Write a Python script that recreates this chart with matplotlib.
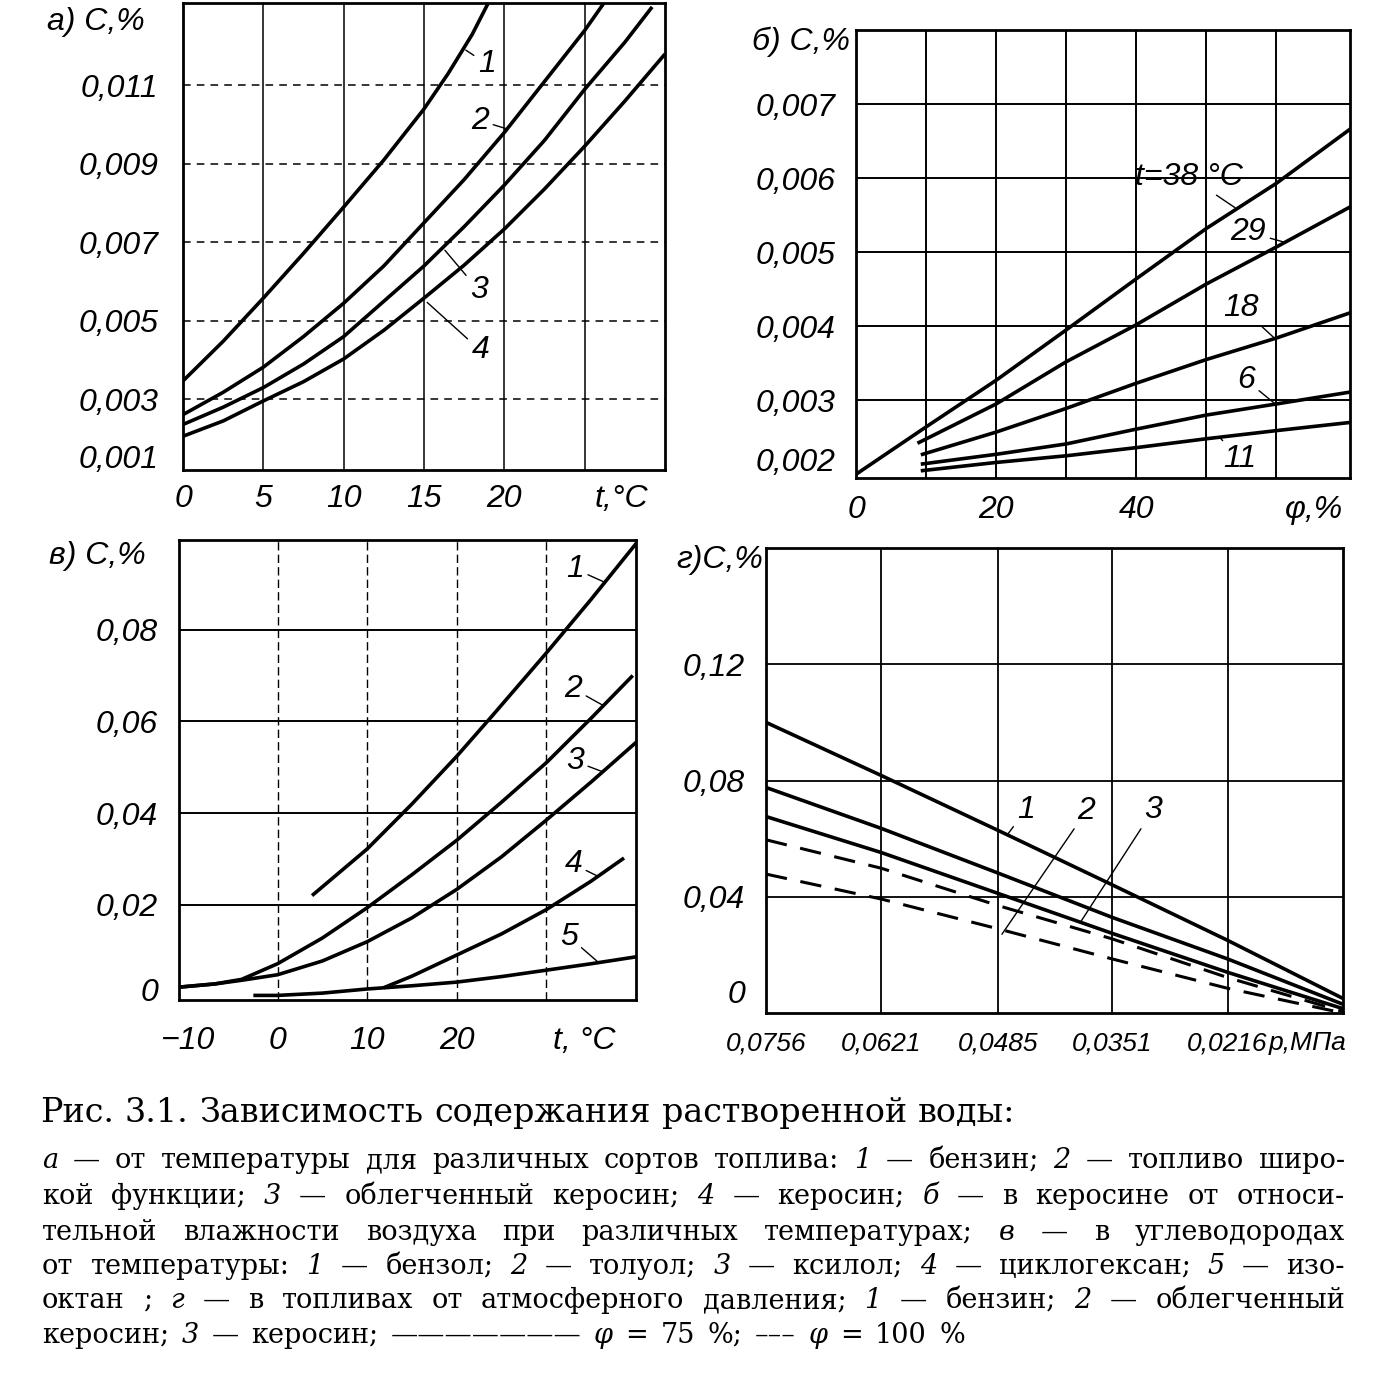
import matplotlib
matplotlib.use('Agg')
import matplotlib.pyplot as plt
import matplotlib.font_manager as fm

# ---------------- data ----------------
# panel a: C,% vs t,°C for fuels
a_x1 = [0, 2.5, 5, 7.5, 10, 12.5, 15, 16.5, 18, 19]
a_y1 = [0.00347, 0.00448, 0.00558, 0.00672, 0.0079, 0.0091, 0.0104, 0.0113, 0.0123, 0.0131]
a_x2 = [0, 2.5, 5, 7.5, 10, 12.5, 15, 17.5, 20, 22.5, 25, 26.2]
a_y2 = [0.00261, 0.00318, 0.00382, 0.0046, 0.00545, 0.0064, 0.0075, 0.0086, 0.0098, 0.0111, 0.0124, 0.0131]
a_x3 = [0, 2.5, 5, 7.5, 10, 12.5, 15, 17.5, 20, 22.5, 25, 27.5, 29.2]
a_y3 = [0.00236, 0.0028, 0.0033, 0.0039, 0.0046, 0.0055, 0.0064, 0.0074, 0.00846, 0.0096, 0.0109, 0.0121, 0.0130]
a_x4 = [0, 2.5, 5, 7.5, 10, 12.5, 15, 17.5, 20, 22.5, 25, 27.5, 30]
a_y4 = [0.00206, 0.00245, 0.00296, 0.00345, 0.00403, 0.00476, 0.00558, 0.00642, 0.00734, 0.00836, 0.00945, 0.0106, 0.0118]
a_xticks = [0, 5, 10, 15, 20]
a_xtick_labels = ['0', '5', '10', '15', '20']
a_xgrid = [5, 10, 15, 20, 25]
a_yticks = [0.003, 0.005, 0.007, 0.009, 0.011]
a_ytick_labels = ['0,003', '0,005', '0,007', '0,009', '0,011']

# panel б: C,% vs φ,% at several temperatures
b_x38 = [0, 10, 20, 30, 40, 50, 60, 70.5]
b_y38 = [0.0020, 0.00264, 0.00327, 0.00395, 0.00464, 0.00532, 0.00593, 0.00666]
b_x29 = [9, 20, 30, 40, 50, 60, 70.5]
b_y29 = [0.00243, 0.00295, 0.00352, 0.00402, 0.00457, 0.00507, 0.00561]
b_x18 = [9.5, 20, 30, 40, 50, 60, 70.5]
b_y18 = [0.00227, 0.00257, 0.00289, 0.00323, 0.00355, 0.00384, 0.00418]
b_x6 = [9.5, 20, 30, 40, 50, 60, 70.5]
b_y6 = [0.00214, 0.00227, 0.00241, 0.00261, 0.00280, 0.00295, 0.00311]
b_x11 = [9.5, 20, 30, 40, 50, 60, 70.5]
b_y11 = [0.00205, 0.00216, 0.00225, 0.00236, 0.00248, 0.00259, 0.00270]
b_xticks = [0, 20, 40]
b_xtick_labels = ['0', '20', '40']
b_xgrid = [10, 20, 30, 40, 50, 60]
b_yticks = [0.003, 0.004, 0.005, 0.006, 0.007]
b_ytick_labels = ['0,003', '0,004', '0,005', '0,006', '0,007']

# panel в: C,% vs t,°C for hydrocarbons
c_x1 = [4, 10, 15, 20, 24, 30, 35, 40]
c_y1 = [0.0223, 0.0322, 0.0420, 0.0524, 0.0613, 0.0749, 0.0866, 0.0987]
c_x2 = [-11, -7, -4, 0, 5, 10, 15, 20, 25, 30, 35, 39.5]
c_y2 = [0.0021, 0.0028, 0.0038, 0.0072, 0.0128, 0.0194, 0.0266, 0.0341, 0.0424, 0.0510, 0.0607, 0.0697]
c_x3 = [-11, -7, -4, 0, 5, 10, 15, 20, 25, 30, 35, 40]
c_y3 = [0.0021, 0.0028, 0.0036, 0.0048, 0.0078, 0.0120, 0.0172, 0.0234, 0.0305, 0.0385, 0.0468, 0.0554]
c_x4 = [12, 15, 20, 25, 30, 35, 38.5]
c_y4 = [0.0021, 0.0045, 0.0091, 0.0137, 0.0190, 0.0252, 0.0300]
c_x5 = [-2.5, 0, 5, 10, 15, 20, 25, 30, 35, 40]
c_y5 = [0.0003, 0.0003, 0.0008, 0.0017, 0.0024, 0.0032, 0.0044, 0.0058, 0.0072, 0.0087]
c_xticks = [-10, 0, 10, 20]
c_xtick_labels = ['\u221210', '0', '10', '20']
c_xgrid = [0, 10, 20, 30]
c_yticks = [0.02, 0.04, 0.06, 0.08]
c_ytick_labels = ['0,02', '0,04', '0,06', '0,08']

# panel г: C,% vs atmospheric pressure p, MPa
d_p = [0.0756, 0.0621, 0.0485, 0.0351, 0.0216, 0.0081]
d_solid1 = [0.100, 0.0817, 0.0629, 0.0441, 0.0250, 0.0050]
d_solid2 = [0.0776, 0.0635, 0.0482, 0.0329, 0.0186, 0.0030]
d_solid3 = [0.0676, 0.0552, 0.0412, 0.0274, 0.0140, 0.0015]
d_dash2 = [0.0596, 0.0498, 0.0370, 0.0255, 0.0122, 0.0005]
d_dash3 = [0.0478, 0.0392, 0.0290, 0.0186, 0.0085, 0.0000]
d_xticks = [0.0756, 0.0621, 0.0485, 0.0351, 0.0216]
d_xtick_labels = ['0,0756', '0,0621', '0,0485', '0,0351', '0,0216']
d_xgrid = [0.0621, 0.0485, 0.0351, 0.0216]
d_yticks = [0.04, 0.08, 0.12]
d_ytick_labels = ['0,04', '0,08', '0,12']

caption_lines = [
    "Рис. 3.1. Зависимость содержания растворенной воды:",
    "_а_ — от температуры для различных сортов топлива: _1_ — бензин; _2_ — топливо широ-",
    "кой функции; _3_ — облегченный керосин; _4_ — керосин; _б_ — в керосине от относи-",
    "тельной влажности воздуха при различных температурах; _в_ — в углеводородах",
    "от температуры: _1_ — бензол; _2_ — толуол; _3_ — ксилол; _4_ — циклогексан; _5_ — изо-",
    "октан ; _г_ — в топливах от атмосферного давления; _1_ — бензин; _2_ — облегченный",
    "керосин; _3_ — керосин; ——————— _φ_ = 75 %; ––– _φ_ = 100 %",
]

# ---------------- figure ----------------
W, H = 1388, 1385
fig = plt.figure(figsize=(W / 100, H / 100), dpi=100)
fig.patch.set_facecolor('white')

names = {f.name for f in fm.fontManager.ttflist}
if 'Liberation Sans Narrow' in names:
    NARROW, FS = 'Liberation Sans Narrow', 24
else:
    NARROW, FS = 'Liberation Sans', 23
SERIF = 'DejaVu Serif'
LAB = dict(family=NARROW, style='italic', fontsize=FS, color='black')


def add_ax(l, t, r, b):
    return fig.add_axes([l / W, 1 - b / H, (r - l) / W, (b - t) / H])


def setup(ax, xlim, ylim, xgrid, ygrid, xls, yls, xlw, ylw):
    ax.set_xlim(*xlim)
    ax.set_ylim(*ylim)
    for v in xgrid:
        ax.axvline(v, color='k', lw=xlw, ls=xls, zorder=1)
    for v in ygrid:
        ax.axhline(v, color='k', lw=ylw, ls=yls, zorder=1)
    for s in ax.spines.values():
        s.set_linewidth(2.0)
        s.set_color('k')
    ax.tick_params(length=0)
    ax.set_facecolor('white')


def ticks(ax, xt, xl, yt, yl, xpad, ypad, xfs=None):
    ax.set_xticks(xt)
    ax.set_xticklabels(xl, family=NARROW, style='italic', fontsize=xfs or FS)
    ax.set_yticks(yt)
    ax.set_yticklabels(yl, family=NARROW, style='italic', fontsize=FS)
    ax.tick_params(axis='x', pad=xpad)
    ax.tick_params(axis='y', pad=ypad)


def xname(ax, txt, x, pad, fs=None):
    d = dict(LAB)
    d['fontsize'] = fs or FS
    ax.annotate(txt, xy=(x, 0), xycoords=('data', 'axes fraction'),
                xytext=(0, -pad), textcoords='offset points', ha='center', va='top', **d)


def ybottom(ax, txt, pad, off):
    ax.annotate(txt, xy=(0, 0), xycoords='axes fraction', xytext=(-pad, off),
                textcoords='offset points', ha='right', va='center', **LAB)


def lbl(ax, txt, xy, xytext, leader=True):
    ap = dict(arrowstyle='-', lw=1.0, color='k', shrinkA=1, shrinkB=0) if leader else None
    ax.annotate(txt, xy=xy, xytext=xytext, textcoords='data', ha='center', va='center',
                arrowprops=ap, **LAB)


CLW = 2.6

# ---- panel a ----
axA = add_ax(183, 3, 665, 470)
setup(axA, (0, 30), (0.0012, 0.0131), a_xgrid, a_yticks, '-', (0, (5, 4)), 1.1, 1.1)
ticks(axA, a_xticks, a_xtick_labels, a_yticks, a_ytick_labels, 10, 18)
xname(axA, 't,°C', 27.3, 10)
ybottom(axA, '0,001', 18, 7)
for xs, ys in [(a_x1, a_y1), (a_x2, a_y2), (a_x3, a_y3), (a_x4, a_y4)]:
    axA.plot(xs, ys, color='k', lw=CLW, solid_capstyle='butt', zorder=3)
lbl(axA, '1', (17.6, 0.0119), (18.9, 0.01155))
lbl(axA, '2', (20.1, 0.0099), (18.5, 0.0101))
lbl(axA, '3', (16.3, 0.0068), (18.4, 0.00578))
lbl(axA, '4', (15.2, 0.00547), (18.5, 0.00425))

# ---- panel б ----
axB = add_ax(856, 30, 1350, 478)
setup(axB, (0, 70.5), (0.00195, 0.008), b_xgrid, b_yticks, '-', '-', 1.4, 1.4)
ticks(axB, b_xticks, b_xtick_labels, b_yticks, b_ytick_labels, 12, 15)
xname(axB, 'φ,%', 65.4, 12)
ybottom(axB, '0,002', 15, 11)
for xs, ys in [(b_x38, b_y38), (b_x29, b_y29), (b_x18, b_y18), (b_x6, b_y6), (b_x11, b_y11)]:
    axB.plot(xs, ys, color='k', lw=CLW, zorder=3)
lbl(axB, 't=38 °C', (54.1, 0.0056), (47.5, 0.00602))
lbl(axB, '29', (61.3, 0.00513), (56.0, 0.00527))
lbl(axB, '18', (59.7, 0.00384), (55.0, 0.00425))
lbl(axB, '6', (59.7, 0.00296), (55.7, 0.00327))
lbl(axB, '11', (51.9, 0.0025), (54.7, 0.0022))

# ---- panel в ----
axC = add_ax(179, 540, 636, 1000)
setup(axC, (-11, 40), (-0.0007, 0.0995), c_xgrid, c_yticks, (0, (6, 3)), '-', 1.0, 1.4)
ticks(axC, c_xticks, c_xtick_labels, c_yticks, c_ytick_labels, 19, 15)
xname(axC, 't, °C', 34.2, 19)
ybottom(axC, '0', 15, 5)
for xs, ys in [(c_x1, c_y1), (c_x2, c_y2), (c_x3, c_y3), (c_x4, c_y4), (c_x5, c_y5)]:
    axC.plot(xs, ys, color='k', lw=CLW, zorder=3)
lbl(axC, '1', (36.5, 0.0903), (33.2, 0.0932))
lbl(axC, '2', (36.3, 0.0635), (33.0, 0.0671))
lbl(axC, '3', (36.3, 0.0490), (33.2, 0.0513))
lbl(axC, '4', (35.8, 0.0262), (33.0, 0.0289))
lbl(axC, '5', (35.8, 0.0075), (32.5, 0.0131))

# ---- panel г ----
axD = add_ax(766, 548, 1343, 1013)
setup(axD, (0.0756, 0.0081), (0, 0.16), d_xgrid, d_yticks, '-', '-', 1.3, 1.3)
ticks(axD, d_xticks, d_xtick_labels, d_yticks, d_ytick_labels, 13, 15, xfs=FS - 4)
xname(axD, 'p,МПа', 0.0123, 13, fs=FS - 4)
ybottom(axD, '0', 15, 13)
for ys in [d_solid1, d_solid2, d_solid3]:
    axD.plot(d_p, ys, color='k', lw=CLW, zorder=3)
for ys in [d_dash2, d_dash3]:
    axD.plot(d_p, ys, color='k', lw=2.2, ls=(0, (7, 4.5)), zorder=3)
lbl(axD, '1', (0.0474, 0.0612), (0.0452, 0.0699))
lbl(axD, '2', (0.0480, 0.0271), (0.0381, 0.0696))
lbl(axD, '3', (0.0388, 0.0313), (0.0303, 0.0699))

# panel titles
for txt, x, y in [('а) С,%', 47, 22), ('б) С,%', 752, 42), ('в) С,%', 49, 556), ('г)С,%', 676, 560)]:
    fig.text(x / W, 1 - y / H, txt, ha='left', va='center', **LAB)

# ---------------- caption ----------------
cap_geom = [  # (x0, x1, baseline, fit font size to width)
    (40, 1015, 1122, True),
    (42, 1345, 1168, False),
    (42, 1345, 1204, False),
    (42, 1345, 1240, False),
    (42, 1345, 1274, False),
    (42, 1345, 1308, False),
    (42, 965, 1343, False),
]
renderer = fig.canvas.get_renderer()


def make_tokens(line, fs):
    out = []
    for tk in line.split(' '):
        it = len(tk) > 2 and tk.startswith('_') and tk.endswith('_')
        s = tk[1:-1] if it else tk
        t = fig.text(0, 0, s, fontsize=fs, family=SERIF,
                     style='italic' if it else 'normal', ha='left', va='baseline')
        out.append(t)
    return out


CFS = 19.5
for line, (x0, x1, yb, fit) in zip(caption_lines, cap_geom):
    fs = CFS
    texts = make_tokens(line, fs)
    widths = [t.get_window_extent(renderer).width for t in texts]
    n = len(texts)
    if fit:
        sp = 0.32 * fs * 100 / 72
        total = sum(widths) + sp * (n - 1)
        fs = fs * (x1 - x0) / total
        for t in texts:
            t.remove()
        texts = make_tokens(line, fs)
        widths = [t.get_window_extent(renderer).width for t in texts]
    gap = (x1 - x0 - sum(widths)) / (n - 1)
    x = x0
    for t, w in zip(texts, widths):
        t.set_position((x / W, 1 - yb / H))
        x += w + gap

fig.savefig('out.png', dpi=100, facecolor='white')
